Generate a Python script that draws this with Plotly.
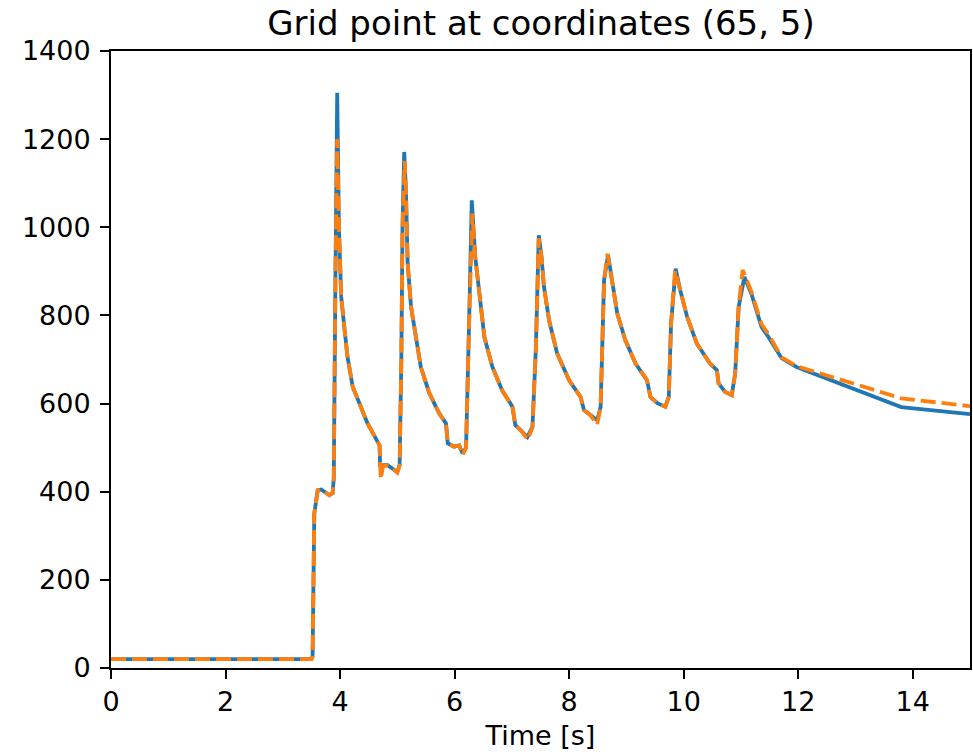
import plotly.graph_objects as go

# Time [s] and values
t_blue = [0, 3.50, 3.52, 3.55, 3.61, 3.67, 3.75, 3.81, 3.87, 3.89, 3.92, 3.95,
          3.98, 4.02, 4.08, 4.13, 4.22, 4.34, 4.48, 4.69, 4.70, 4.75, 4.83, 4.92, 5.00, 5.04, 5.07, 5.09, 5.12,
          5.15, 5.18, 5.24, 5.33, 5.41, 5.56, 5.73, 5.85, 5.88, 5.99, 6.08, 6.14, 6.20, 6.25, 6.30,
          6.36, 6.43, 6.52, 6.66, 6.83, 7.01, 7.06, 7.15, 7.27, 7.36, 7.42, 7.47,
          7.52, 7.56, 7.65, 7.79, 8.00, 8.20, 8.26, 8.37, 8.49, 8.55, 8.61, 8.68,
          8.75, 8.84, 8.98, 9.16, 9.36, 9.42, 9.54, 9.68, 9.74, 9.78, 9.86,
          9.94, 10.06, 10.23, 10.46, 10.58, 10.61, 10.72, 10.84, 10.90, 10.96, 11.06,
          11.18, 11.36, 11.48, 11.71, 11.97, 13.80, 15.0]
y_blue = [20, 20, 26, 351, 403, 405, 398, 392, 397, 430, 900, 1305,
          1000, 842, 766, 706, 638, 601, 555, 505, 456, 460, 460, 452, 445, 460, 700, 1000, 1171,
          1084, 918, 819, 744, 683, 623, 578, 555, 510, 502, 505, 487, 500, 766, 1061,
          933, 850, 751, 683, 630, 593, 551, 540, 524, 547, 729, 982,
          930, 865, 789, 714, 653, 615, 585, 574, 562, 593, 880, 937,
          873, 805, 744, 691, 653, 615, 601, 593, 615, 782, 906,
          857, 797, 736, 691, 676, 646, 627, 619, 669, 819, 887,
          850, 774, 751, 703, 683, 592, 576]

t_orange = [0, 3.50, 3.52, 3.55, 3.61, 3.67, 3.75, 3.81, 3.87, 3.89, 3.92, 3.95,
            3.98, 4.02, 4.08, 4.13, 4.22, 4.34, 4.48, 4.69, 4.71, 4.75, 4.83, 4.92, 5.00, 5.04, 5.07, 5.09, 5.13,
            5.15, 5.18, 5.24, 5.33, 5.41, 5.56, 5.73, 5.85, 5.88, 5.99, 6.08, 6.14, 6.20, 6.25, 6.31,
            6.36, 6.43, 6.52, 6.66, 6.83, 7.01, 7.06, 7.15, 7.28, 7.36, 7.42, 7.47,
            7.52, 7.56, 7.65, 7.79, 8.00, 8.20, 8.26, 8.37, 8.49, 8.55, 8.61, 8.67,
            8.75, 8.84, 8.98, 9.16, 9.36, 9.42, 9.54, 9.68, 9.74, 9.78, 9.85,
            9.94, 10.06, 10.23, 10.46, 10.58, 10.61, 10.72, 10.84, 10.90, 10.96, 11.03,
            11.18, 11.36, 11.48, 11.71, 11.97, 13.80, 15.0]
y_orange = [20, 20, 26, 351, 403, 405, 398, 392, 397, 430, 900, 1200,
            1000, 842, 766, 706, 638, 601, 555, 505, 428, 458, 460, 452, 443, 460, 700, 1000, 1150,
            1084, 918, 819, 744, 683, 623, 578, 555, 510, 502, 505, 483, 500, 766, 1031,
            933, 850, 751, 683, 630, 593, 551, 540, 518, 547, 729, 975,
            930, 865, 789, 714, 653, 615, 585, 574, 552, 593, 880, 940,
            873, 805, 744, 691, 653, 615, 601, 593, 615, 782, 902,
            857, 797, 736, 691, 676, 646, 627, 619, 669, 819, 903,
            855, 780, 758, 705, 685, 612, 594]

x_ticks = [0, 2, 4, 6, 8, 10, 12, 14]
y_ticks = [0, 200, 400, 600, 800, 1000, 1200, 1400]

fig = go.Figure()
fig.add_trace(go.Scatter(x=t_blue, y=y_blue, mode="lines",
                         line=dict(color="#1f77b4", width=3.8), showlegend=False))
fig.add_trace(go.Scatter(x=t_orange, y=y_orange, mode="lines",
                         line=dict(color="#ff7f0e", width=3.8, dash="15px,6px"), showlegend=False))

axis_common = dict(showline=True, linecolor="black", linewidth=2, mirror=True,
                   ticks="outside", ticklen=9, tickwidth=2, tickcolor="black",
                   showgrid=False, zeroline=False,
                   tickfont=dict(family="DejaVu Sans", size=27, color="black"))

fig.update_layout(
    width=973, height=755,
    paper_bgcolor="white", plot_bgcolor="white",
    margin=dict(l=111, r=1, t=51, b=87),
    title=dict(text="Grid point at coordinates (65, 5)", x=0.556, xanchor="center",
               y=0.969, yanchor="middle",
               font=dict(family="DejaVu Sans", size=34, color="black")),
    xaxis=dict(range=[0, 15], tickvals=x_ticks,
               title=dict(text="Time [s]", font=dict(family="DejaVu Sans", size=27, color="black"),
                          standoff=10),
               **axis_common),
    yaxis=dict(range=[0, 1400], tickvals=y_ticks, ticklabelstandoff=4, **axis_common),
)

fig.write_html("out.html")
